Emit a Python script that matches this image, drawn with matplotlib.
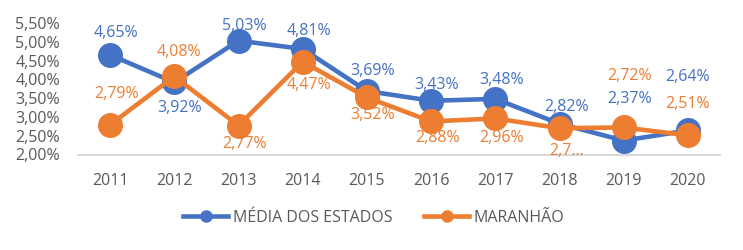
import matplotlib
matplotlib.use("Agg")
import matplotlib.pyplot as plt
from matplotlib.ticker import FuncFormatter
from matplotlib.lines import Line2D

years = ["2011", "2012", "2013", "2014", "2015", "2016", "2017", "2018", "2019", "2020"]
media_estados = [4.65, 3.92, 5.03, 4.81, 3.69, 3.43, 3.48, 2.82, 2.37, 2.64]
maranhao = [2.79, 4.08, 2.77, 4.47, 3.52, 2.88, 2.96, 2.70, 2.72, 2.51]
label_media = ["4,65%", "3,92%", "5,03%", "4,81%", "3,69%", "3,43%", "3,48%", "2,82%", "2,37%", "2,64%"]
label_maranhao = ["2,79%", "4,08%", "2,77%", "4,47%", "3,52%", "2,88%", "2,96%", "2,7...", "2,72%", "2,51%"]
series_names = ["MÉDIA DOS ESTADOS", "MARANHÃO"]

# label vertical offsets in pixels (positive = up)
off_media = [22, -26, 15, 18, 20, 16, 19, 17, 42, 53]
off_mar = [31, 24, -18, -23, -18, -17, -20, -23, 51, 31]
dx_px = [6, 5, 6, 6, 6, 6, 6, 7, 6, 0]

BLUE = "#4472C4"
ORANGE = "#ED7D31"
GREY = "#595959"
FONT = "Open Sans"
FS = 11.5

plt.rcParams['font.family'] = [FONT, 'DejaVu Sans']

fig = plt.figure(figsize=(7.43, 2.5), dpi=100)
ax = fig.add_axes([78 / 743, 1 - 154.5 / 250, (720 - 78) / 743, (154.5 - 23) / 250])

x = list(range(len(years)))
px2pt = 72 / 100

for vals, labels, offs, color, name in [
    (media_estados, label_media, off_media, BLUE, series_names[0]),
    (maranhao, label_maranhao, off_mar, ORANGE, series_names[1]),
]:
    ax.plot(x, vals, color=color, lw=3.3, marker="o", markersize=17,
            solid_capstyle="round", label=name, zorder=3)
    for i, (v, t, o) in enumerate(zip(vals, labels, offs)):
        ax.annotate(t, (i, v), xytext=(dx_px[i] * px2pt, o * px2pt),
                    textcoords="offset points", ha="center", va="center",
                    color=color, fontsize=FS, zorder=5, annotation_clip=False)

ax.set_xlim(-0.5, len(years) - 0.5)
ax.set_ylim(2.0, 5.5)
ax.set_yticks([2.0, 2.5, 3.0, 3.5, 4.0, 4.5, 5.0, 5.5])
ax.yaxis.set_major_formatter(FuncFormatter(lambda v, p: f"{v:.2f}%".replace(".", ",")))
ax.set_xticks(x)
ax.set_xticklabels(years)
ax.tick_params(axis="both", length=0, colors=GREY, labelsize=FS)
ax.tick_params(axis="y", pad=13)
ax.tick_params(axis="x", pad=13)
for s in ["top", "right", "left"]:
    ax.spines[s].set_visible(False)
ax.spines["bottom"].set_color("#D9D9D9")
ax.spines["bottom"].set_linewidth(1.5)
ax.patch.set_visible(False)

hs = [Line2D([0], [0], color=BLUE, lw=3.3, marker="o", markersize=8),
      Line2D([0], [0], color=ORANGE, lw=3.3, marker="o", markersize=8)]
leg = fig.legend(hs, series_names, loc="center", bbox_to_anchor=(374 / 743, 1 - 218 / 250),
                 ncol=2, frameon=False, fontsize=FS, handlelength=2.8, handletextpad=0.3,
                 columnspacing=2.0, labelcolor=GREY)

fig.savefig("out.png", dpi=100)
